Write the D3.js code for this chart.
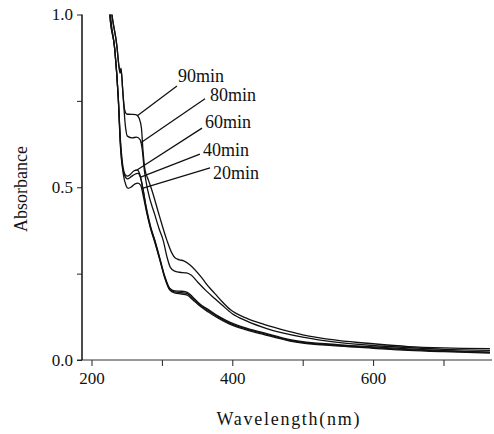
<!DOCTYPE html>
<html>
  <head>
    <meta charset="utf-8" />
    <script src="https://cdn.jsdelivr.net/npm/d3@7"></script>
    <style>
        body { margin: 0; background: #fff; }
        text { font-family: "Liberation Serif", "DejaVu Serif", serif; fill: #111; }
        .curve { fill: none; stroke: #111; stroke-width: 1.3; }
    </style>
  </head>
  <body>
    <svg width="494" height="434"></svg>

    <script type="text/javascript">
        // absorbance spectra, [wavelength nm, absorbance]
        var min20 = [[224,1.1],[226,1.0],[233,0.9],[238,0.76],[241,0.62],[245,0.54],[249,0.505],[252,0.497],[256,0.5],[262,0.51],[266,0.512],[270,0.505],[274,0.47],[278,0.43],[284,0.38],[290,0.34],[297,0.29],[304,0.238],[311,0.203],[318,0.194],[328,0.191],[336,0.188],[343,0.176],[354,0.156],[366,0.139],[380,0.121],[397,0.103],[420,0.087],[444,0.074],[482,0.055],[553,0.04],[600,0.034],[650,0.028],[700,0.024],[766,0.02]];
        var min40 = [[224,1.1],[226,1.0],[233,0.9],[238,0.76],[241,0.63],[244,0.56],[248,0.53],[251,0.524],[256,0.53],[261,0.537],[266,0.54],[270,0.525],[274,0.485],[278,0.435],[284,0.382],[290,0.343],[297,0.292],[304,0.24],[311,0.205],[318,0.197],[328,0.195],[336,0.192],[343,0.18],[354,0.159],[366,0.143],[380,0.124],[397,0.106],[420,0.09],[444,0.077],[482,0.057],[553,0.042],[600,0.036],[650,0.03],[700,0.026],[766,0.022]];
        var min60 = [[224,1.1],[227,1.0],[233,0.9],[238,0.76],[241,0.64],[244,0.57],[248,0.536],[251,0.532],[255,0.537],[260,0.547],[265,0.55],[269,0.535],[273,0.495],[278,0.44],[284,0.386],[290,0.347],[297,0.295],[304,0.243],[311,0.208],[318,0.2],[328,0.199],[336,0.196],[343,0.184],[354,0.162],[366,0.146],[380,0.127],[397,0.109],[420,0.092],[444,0.079],[482,0.059],[553,0.044],[600,0.038],[650,0.032],[700,0.027],[766,0.023]];
        var min80 = [[224,1.1],[229,1.0],[236,0.91],[239,0.85],[240.5,0.83],[242,0.84],[245,0.76],[248,0.68],[251,0.648],[258,0.643],[264,0.645],[269,0.638],[272,0.61],[275,0.55],[280,0.49],[290,0.42],[296,0.38],[302,0.345],[307,0.3],[312,0.268],[318,0.257],[325,0.254],[335,0.252],[342,0.245],[351,0.225],[363,0.2],[375,0.178],[385,0.16],[400,0.134],[420,0.113],[450,0.09],[500,0.066],[550,0.051],[600,0.042],[650,0.036],[700,0.031],[766,0.028]];
        var min90 = [[224,1.1],[229,1.0],[236,0.91],[239,0.85],[240.5,0.835],[242,0.845],[244,0.79],[247,0.725],[250,0.712],[256,0.711],[263,0.71],[268,0.698],[271,0.67],[273,0.61],[276,0.55],[281,0.52],[286,0.49],[296,0.42],[307,0.347],[314,0.31],[319,0.295],[325,0.29],[331,0.287],[340,0.275],[357,0.237],[366,0.213],[375,0.193],[385,0.17],[397,0.146],[420,0.121],[445,0.103],[480,0.083],[500,0.073],[550,0.057],[600,0.047],[650,0.039],[700,0.035],[766,0.033]];

        var series = [min20, min40, min60, min80, min90];
        var seriesNames = ["20min", "40min", "60min", "80min", "90min"];
        // label text position [nm, A], leader start [nm, A], leader end wavelength on curve
        var labelAt = [[372.6,0.524],[358.4,0.59],[361.2,0.671],[368.3,0.749],[322.9,0.805]];
        var leaderFrom = [[368.4,0.556],[354,0.596],[357,0.671],[361.2,0.756],[321.4,0.793]];
        var leaderTo = [271, 269, 264.6, 270, 264.6];

        var xTicks = [200, 300, 400, 500, 600, 700];
        var xTickLabels = ["200", "", "400", "", "600", ""];
        var yTicks = [0, 0.25, 0.5, 0.75, 1.0];
        var yTickLabels = ["0.0", "", "0.5", "", "1.0"];

        var svg = d3.select("svg");

        var x = d3.scaleLinear().domain([186.5, 768.9]).range([82, 492]);
        var y = d3.scaleLinear().domain([0, 1]).range([360, 14.5]);

        svg.append("defs").append("clipPath")
            .attr("id", "plot")
            .append("rect")
            .attr("x", 82).attr("y", 14.5)
            .attr("width", 412).attr("height", 346);

        // axes
        var xAxis = d3.axisBottom(x).tickValues(xTicks)
            .tickSize(6).tickPadding(6)
            .tickFormat(function(d, i) { return xTickLabels[i]; });
        var gx = svg.append("g").attr("transform", "translate(0,360)").call(xAxis);
        gx.select(".domain").remove();
        gx.append("line").attr("x1", 77).attr("x2", 492).attr("y1", 0).attr("y2", 0)
            .attr("stroke", "#333").attr("stroke-width", 1);

        var yAxis = d3.axisLeft(y).tickValues(yTicks)
            .tickSize(5).tickPadding(4)
            .tickFormat(function(d, i) { return yTickLabels[i]; });
        var gy = svg.append("g").attr("transform", "translate(82,0)").call(yAxis);
        gy.select(".domain").attr("d", "M0," + y(1) + "V" + y(0)).attr("stroke", "#111").attr("stroke-width", 1.5);

        svg.selectAll(".tick text")
            .style("font-family", '"Liberation Serif", serif')
            .style("font-size", "17px")
            .attr("fill", "#111");
        gx.selectAll(".tick line").attr("stroke", "#222");
        gy.selectAll(".tick line").attr("stroke", "#222");

        // axis titles
        svg.append("text")
            .attr("x", 288).attr("y", 425)
            .attr("text-anchor", "middle")
            .attr("textLength", 143).attr("lengthAdjust", "spacing")
            .style("font-size", "18px")
            .text("Wavelength(nm)");

        svg.append("text")
            .attr("transform", "translate(27,189) rotate(-90)")
            .attr("text-anchor", "middle")
            .style("font-size", "18px")
            .text("Absorbance");

        // curves
        var line = d3.line()
            .x(function(d) { return x(d[0]); })
            .y(function(d) { return y(d[1]); })
            .curve(d3.curveMonotoneX);

        svg.append("g")
            .attr("clip-path", "url(#plot)")
            .selectAll("path")
            .data(series)
            .enter()
            .append("path")
            .attr("class", "curve")
            .attr("d", line);

        function valueAt(data, w) {
            var i = d3.bisector(function(d) { return d[0]; }).left(data, w);
            var a = data[Math.max(i - 1, 0)], b = data[i];
            var t = (w - a[0]) / (b[0] - a[0]);
            return a[1] + t * (b[1] - a[1]);
        }

        // labels with leader lines
        var lab = svg.append("g");
        seriesNames.forEach(function(name, i) {
            lab.append("line")
                .attr("x1", x(leaderFrom[i][0])).attr("y1", y(leaderFrom[i][1]))
                .attr("x2", x(leaderTo[i])).attr("y2", y(valueAt(series[i], leaderTo[i])))
                .attr("stroke", "#111").attr("stroke-width", 1.3);
            lab.append("text")
                .attr("x", x(labelAt[i][0])).attr("y", y(labelAt[i][1]))
                .style("font-size", "18px")
                .text(name);
        });
    </script>
  </body>
</html>
